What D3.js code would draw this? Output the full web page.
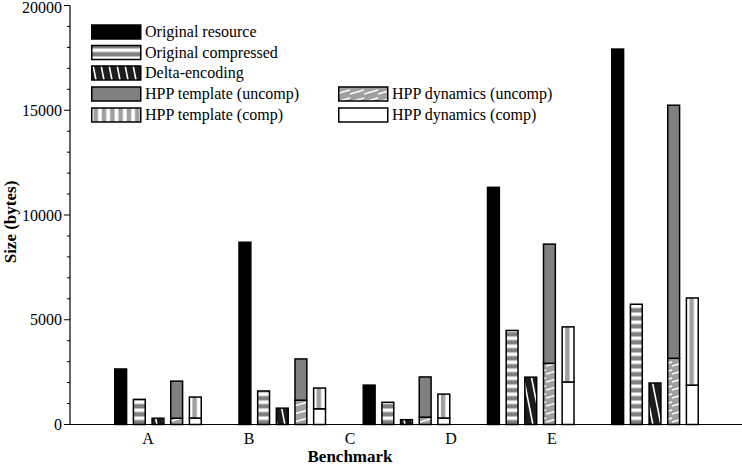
<!DOCTYPE html>
<html><head><meta charset="utf-8">
<script src="https://cdn.jsdelivr.net/npm/d3@7"></script>
<style>body{margin:0;background:#fff;} svg{display:block;}</style>
</head><body>
<svg id="chart" width="742" height="465"></svg>
<script>
const categories = ['A','B','C','D','E'];
const originalResource   = [2650, 8700, 1880, 11320, 17920];
const originalCompressed = [1200, 1600, 1060, 4490, 5740];
const deltaEncoding      = [300, 780, 230, 2260, 1980];
const hppDynamicsUncomp  = [300, 1160, 350, 2920, 3160];
const hppTemplateUncomp  = [1770, 1970, 1920, 5690, 12080];
const hppDynamicsComp    = [310, 750, 310, 2030, 1880];
const hppTemplateComp    = [1000, 990, 1140, 2630, 4160];
const yTicks = [0, 5000, 10000, 15000, 20000];
const legendLabels = ['Original resource','Original compressed','Delta-encoding','HPP template (uncomp)','HPP template (comp)','HPP dynamics (uncomp)','HPP dynamics (comp)'];

const svg = d3.select('#chart');
const FONT = '"Liberation Serif","DejaVu Serif",serif';
const defs = svg.append('defs');

// patterns
function hstripe(id){
  const p = defs.append('pattern').attr('id',id).attr('patternUnits','userSpaceOnUse')
    .attr('width',8).attr('height',8).attr('y',424.5);
  p.append('rect').attr('width',8).attr('height',8).attr('fill','#fff');
  p.append('rect').attr('y',3.5).attr('width',8).attr('height',4.5).attr('fill','#808080');
}
hstripe('pComp');
function delta(id){
  const p = defs.append('pattern').attr('id',id).attr('patternUnits','userSpaceOnUse')
    .attr('width',8).attr('height',40);
  p.append('rect').attr('width',8).attr('height',40).attr('fill','#1c1c1c');
  [[-8,0],[0,0],[8,0]].forEach(([dx])=>p.append('line').attr('x1',dx).attr('y1',0).attr('x2',dx+8).attr('y2',40)
     .attr('stroke','#fff').attr('stroke-width',1.6));
}
delta('pDelta');
function dyn(id){
  const p = defs.append('pattern').attr('id',id).attr('patternUnits','userSpaceOnUse')
    .attr('width',14).attr('height',8);
  p.append('rect').attr('width',14).attr('height',8).attr('fill','#a0a0a0');
  [[0],[14],[-14]].forEach(([dx])=>p.append('line').attr('x1',dx).attr('y1',6).attr('x2',dx+14).attr('y2',2)
     .attr('stroke','#fff').attr('stroke-width',1.5));
}
dyn('pDyn');
// vertical stripe for bars (one centred stripe per bar)
const pv = defs.append('pattern').attr('id','pTplComp').attr('patternUnits','objectBoundingBox')
  .attr('patternContentUnits','objectBoundingBox').attr('width',1).attr('height',1);
pv.append('rect').attr('width',1).attr('height',1).attr('fill','#fff');
pv.append('rect').attr('x',0.25).attr('width',0.38).attr('height',1).attr('fill','#a0a0a0');
// vertical stripes for legend
const pvl = defs.append('pattern').attr('id','pTplCompL').attr('patternUnits','userSpaceOnUse')
  .attr('width',8.3).attr('height',10).attr('x',91);
pvl.append('rect').attr('width',8.3).attr('height',10).attr('fill','#fff');
pvl.append('rect').attr('x',2.5).attr('width',4.5).attr('height',10).attr('fill','#a0a0a0');

// scales
const y = d3.scaleLinear().domain([0,20000]).range([424.5,5.5]);
const xGroup = d3.scaleBand().domain(categories).range([114,699]).paddingInner(0.2918).paddingOuter(0);
const barKeys = ['res','comp','delta','tplU','tplC'];
const xBar = d3.scaleBand().domain(barKeys).range([0, xGroup.bandwidth()]).paddingInner(0.285);
const xLabel = d3.scaleBand().domain(categories).range([97.5,602.5]);

// bar data
const bars = [];
categories.forEach((c,i)=>{
  bars.push({c,key:'res',y0:0,y1:originalResource[i],fill:'#000',stroke:'#000'});
  bars.push({c,key:'comp',y0:0,y1:originalCompressed[i],fill:'url(#pComp)',stroke:'#000'});
  bars.push({c,key:'delta',y0:0,y1:deltaEncoding[i],fill:'url(#pDelta)',stroke:'#000'});
  bars.push({c,key:'tplU',y0:0,y1:hppDynamicsUncomp[i],fill:'url(#pDyn)',stroke:'#000'});
  bars.push({c,key:'tplU',y0:hppDynamicsUncomp[i],y1:hppDynamicsUncomp[i]+hppTemplateUncomp[i],fill:'#808080',stroke:'#000'});
  bars.push({c,key:'tplC',y0:0,y1:hppDynamicsComp[i],fill:'#fff',stroke:'#000'});
  bars.push({c,key:'tplC',y0:hppDynamicsComp[i],y1:hppDynamicsComp[i]+hppTemplateComp[i],fill:'url(#pTplComp)',stroke:'#000'});
});
svg.append('g').selectAll('rect').data(bars).join('rect')
  .attr('x',d=>xGroup(d.c)+xBar(d.key)+0.75)
  .attr('width',xBar.bandwidth()-1.5)
  .attr('y',d=>y(d.y1))
  .attr('height',d=>y(d.y0)-y(d.y1))
  .attr('fill',d=>d.fill).attr('stroke',d=>d.stroke).attr('stroke-width',1.5);

// axes
const gy = svg.append('g').attr('transform','translate(70,0)');
gy.append('line').attr('x1',0).attr('x2',0).attr('y1',y(20000)).attr('y2',y(0)).attr('stroke','#000').attr('stroke-width',1.2);
gy.selectAll('line.minor').data(d3.range(0,20001,1000)).join('line').attr('class','minor')
  .attr('x1',d=>yTicks.includes(d)?-6:-3).attr('x2',0).attr('y1',d=>y(d)).attr('y2',d=>y(d))
  .attr('stroke','#000').attr('stroke-width',1);
gy.selectAll('text').data(yTicks).join('text')
  .attr('x',-8).attr('y',d=>Math.max(y(d)+5.5,13)).attr('text-anchor','end')
  .attr('font-family',FONT).attr('font-size',16).text(d=>d);
svg.append('line').attr('x1',70).attr('x2',742).attr('y1',y(0)).attr('y2',y(0)).attr('stroke','#000').attr('stroke-width',1.2);
svg.append('g').selectAll('text').data(categories).join('text')
  .attr('x',d=>xLabel(d)+xLabel.bandwidth()/2).attr('y',444).attr('text-anchor','middle')
  .attr('font-family',FONT).attr('font-size',16).text(d=>d);
svg.append('text').attr('x',350).attr('y',462).attr('text-anchor','middle')
  .attr('font-family',FONT).attr('font-size',17).attr('font-weight','bold').text('Benchmark');
svg.append('text').attr('transform','translate(16,222) rotate(-90)').attr('text-anchor','middle')
  .attr('font-family',FONT).attr('font-size',17).attr('font-weight','bold').text('Size (bytes)');

// legend
const legendFills = ['#000','url(#pComp)','url(#pDelta)','#808080','url(#pTplCompL)','url(#pDyn)','#fff'];
const legendPos = [[91,25],[91,45.5],[91,66],[91,87],[91,108],[338,87],[338,108]];
const lg = svg.append('g');
legendLabels.forEach((lab,i)=>{
  const [lx,ly] = legendPos[i];
  lg.append('rect').attr('x',lx+0.75).attr('y',ly).attr('width',49).attr('height',14)
    .attr('fill',legendFills[i]).attr('stroke','#000').attr('stroke-width',1.5);
  lg.append('text').attr('x',lx+54).attr('y',ly+12).attr('font-family',FONT).attr('font-size',16).text(lab);
});
</script>
</body></html>
